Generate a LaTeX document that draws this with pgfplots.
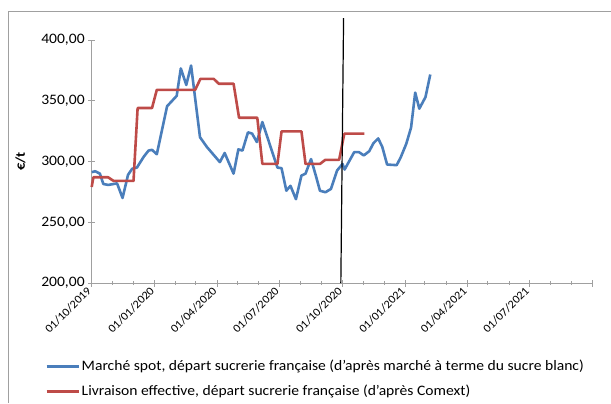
\documentclass[border=0pt]{standalone}
\usepackage{fontspec}
\setmainfont{Carlito}[FakeStretch=1.08]
\usepackage{pgfplots}
\pgfplotsset{compat=1.18}
\definecolor{sblue}{HTML}{4A7EBB}
\definecolor{sred}{HTML}{BE4B48}
\definecolor{axgray}{HTML}{A0A0A0}
\begin{document}
\begin{tikzpicture}[x=1bp,y=1bp]
\path[use as bounding box] (0,0) rectangle (611,403);
\draw[axgray, line width=1bp] (8,0) -- (8,391) -- (611,391);
\begin{axis}[
  at={(91.7bp,120bp)}, anchor=south west,
  scale only axis, width=501bp, height=243bp,
  xmin=0, xmax=731, ymin=200, ymax=400,
  clip=false,
  axis lines*=left,
  axis line style={axgray, line width=0.9bp},
  every tick/.style={axgray, line width=0.9bp},
  tick align=center,
  major tick length=7bp, minor tick length=4bp,
  xtick={0,92,183,274,366,458,548,639,731},
  xticklabels={01/10/2019,01/01/2020,01/04/2020,01/07/2020,01/10/2020,01/01/2021,01/04/2021,01/07/2021,},
  minor xtick={31,61,122,152,213,244,305,335,397,427,486,517,578,609,670,700},
  ytick={200,250,300,350,400},
  yticklabel style={/pgf/number format/.cd, fixed, fixed zerofill, precision=2, use comma, assume math mode=true},
  ticklabel style={font=\fontsize{14.5}{17}\selectfont, text=black},
  xticklabel style={rotate=45, anchor=east, font=\fontsize{11.5}{14}\selectfont},
  ylabel={\textbf{€/t}},
  ylabel style={font=\fontsize{13.5}{16}\selectfont, at={(-0.125,0.5)}},
  legend style={at={(-0.093,-0.309)}, anchor=north west, draw=none, fill=none,
    font=\fontsize{14.5}{17}\selectfont, row sep=9bp, inner sep=0pt},
  legend cell align=left,
  legend image code/.code={\draw[#1, line width=2.4bp] (0,0) -- (32bp,0);},
]
\addplot[sblue, line width=2.6bp, line join=round] coordinates {
(0,291.2)(5,292)(12,290)(17,281.5)(24,280.7)(37,282)(45,270)(53,289)(59,294)(66,295)
(76,304)(83,309)(88,309.6)(95,306)(110,345.5)(124,354)(130,376.6)(138,363)(145,379)
(158,320)(168,312)(187,299.5)(194,307)(207,290)(214,310)(220,309)(228,324)(234,323)
(241,316)(249,332.5)(261,312)(271,295)(277,294.5)(284,276)(290,280)(298,269)(306,288.4)
(312,290)(320,302)(327,288.4)(333,276)(341,274.7)(349,277.4)(358,292.6)(366,298)
(369,293.4)(383,307.7)(390,307.7)(397,305)(405,308.5)(411,315)(418,319)(424,312)
(431,297.5)(445,297)(451,303.6)(459,314.6)(466,328)(472,356.7)(478,343.5)(487,353)(494,371.6)
};
\addlegendentry{Marché spot, départ sucrerie française (d'après marché à terme du sucre blanc)}
\addplot[sred, line width=2.6bp, line join=round] coordinates {
(0,279)(2.4,287)(24,287)(32,284)(61,284)(67,344)(88,344)(95,359)(151,359)(158.6,368)
(178,368)(185.5,364)(207,364)(215,336)(241.6,336)(249,298)(271,298)(277,324.8)(306,324.8)
(312,298)(333,298)(341,301.4)(361,301.4)(368.6,322.9)(398,322.9)
};
\addlegendentry{Livraison effective, départ sucrerie française (d'après Comext)}
\addplot[black, line width=1.2bp, forget plot] coordinates {(363.5,200)(367.5,418)};
\end{axis}
\end{tikzpicture}
\end{document}
